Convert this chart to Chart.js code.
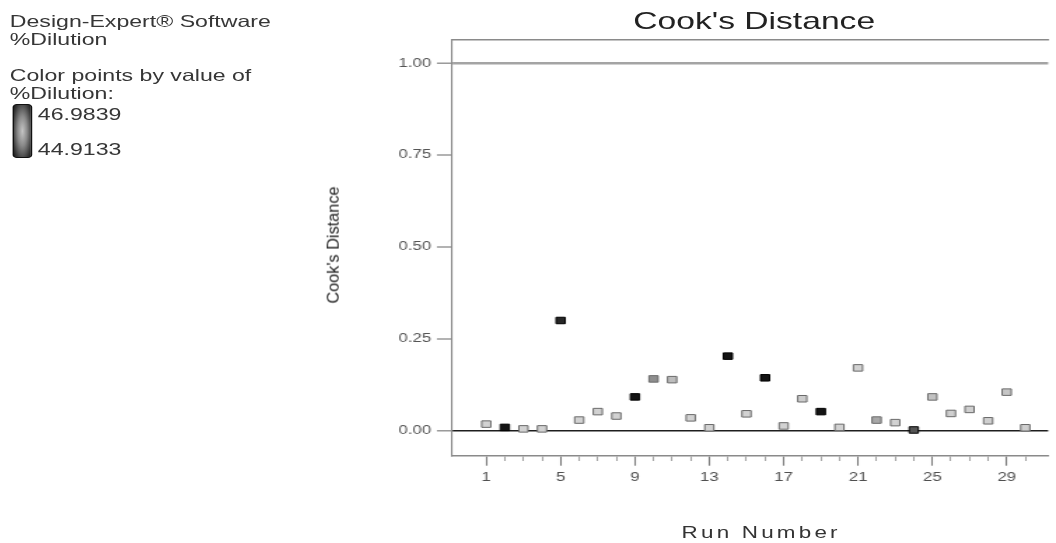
<!DOCTYPE html>
<html>
<head>
<meta charset="utf-8">
<script src="https://cdn.jsdelivr.net/npm/chart.js@4.4.1/dist/chart.umd.min.js"></script>
<style>
  html, body { margin: 0; padding: 0; background: #fff; overflow: hidden; width: 1056px; height: 543px; }
  #stage { position: absolute; left: 0; top: 0; width: 754px; height: 543px;
           transform: scaleX(1.40053); transform-origin: 0 0;
           font-family: "Liberation Sans", Arial, sans-serif; }
  #c { position: absolute; left: 0; top: 0; }
  .t { position: absolute; white-space: nowrap; line-height: 1; color: #363636; font-size: 16.5px; }
  #bar { position: absolute; left: 9px; top: 104px; width: 12px; height: 52px;
         border: 1.3px solid #111; border-radius: 3px;
         background: radial-gradient(ellipse at center, #c4c4c4 0%, #8a8a8a 40%, #3a3a3a 80%, #1a1a1a 100%); }
  #title { position: absolute; left: 323px; width: 431px; top: 9px; text-align: center;
           font-size: 24px; line-height: 1; color: #222; white-space: nowrap; }
  #xtitle { position: absolute; left: 323px; width: 431px; top: 524.8px; text-align: center;
            font-size: 16px; line-height: 1; color: #333; letter-spacing: 2.3px; padding-left: 5px; white-space: nowrap; }
  #ytitle { position: absolute; left: 238.5px; top: 245px; font-size: 11.8px; line-height: 1; color: #222;
            white-space: nowrap; transform: translate(-50%, -50%) rotate(-90deg) scaleX(1.38); }
</style>
</head>
<body>
<div id="stage">
  <canvas id="c" width="754" height="543"></canvas>
  <div class="t" style="left:7px; top:13px;">Design-Expert® Software</div>
  <div class="t" style="left:7px; top:31px;">%Dilution</div>
  <div class="t" style="left:7px; top:66.5px;">Color points by value of</div>
  <div class="t" style="left:7px; top:84.5px;">%Dilution:</div>
  <div id="bar"></div>
  <div class="t" style="left:27px; top:106px;">46.9839</div>
  <div class="t" style="left:27px; top:140.5px;">44.9133</div>
  <div id="title">Cook's Distance</div>
  <div id="xtitle">Run Number</div>
  <div id="ytitle">Cook's Distance</div>
</div>
<script>
// ---- data ----
const runs = [1,2,3,4,5,6,7,8,9,10,11,12,13,14,15,16,17,18,19,20,21,22,23,24,25,26,27,28,29,30];
const cooksDistance = [0.018,0.009,0.005,0.005,0.300,0.029,0.052,0.040,0.092,0.141,
                       0.139,0.035,0.008,0.203,0.046,0.144,0.013,0.087,0.052,0.009,
                       0.171,0.029,0.022,0.002,0.092,0.047,0.058,0.027,0.105,0.008];
const yTickValues = [0, 0.25, 0.5, 0.75, 1.0];
const labeledRuns = [1, 5, 9, 13, 17, 21, 25, 29];
const referenceLine = 1.0;
// ---- styles ----
const pointFill = ['#d2d2d2','#141414','#d2d2d2','#d2d2d2','#262626','#d2d2d2','#d2d2d2','#d2d2d2','#141414','#8e8e8e',
                   '#bdbdbd','#d2d2d2','#d2d2d2','#141414','#d2d2d2','#141414','#d2d2d2','#cccccc','#141414','#d2d2d2',
                   '#d2d2d2','#a8a8a8','#d2d2d2','#555555','#c2c2c2','#cfcfcf','#cfcfcf','#cfcfcf','#c6c6c6','#cfcfcf'];
const pointEdge = pointFill.map(c => parseInt(c.slice(1,3),16) < 0x60 ? '#000000' : '#6a6a6a');

const FONT = '"Liberation Sans", Arial, sans-serif';
const frameColor = '#8a8a8a';

new Chart(document.getElementById('c'), {
  type: 'scatter',
  data: {
    datasets: [{
      data: runs.map((r, i) => ({ x: r, y: cooksDistance[i] })),
      pointStyle: 'rect',
      pointRadius: 4.6,
      pointHoverRadius: 4.6,
      pointBackgroundColor: pointFill,
      pointBorderColor: pointEdge,
      pointBorderWidth: 1,
      showLine: false,
      clip: false
    }]
  },
  options: {
    responsive: false,
    animation: false,
    devicePixelRatio: 1,
    layout: { padding: { left: 0, top: 39.3, right: 0, bottom: 0 } },
    plugins: { legend: { display: false }, tooltip: { enabled: false }, title: { display: false } },
    scales: {
      x: {
        type: 'linear', position: 'bottom',
        min: -0.826, max: 31.23,
        afterBuildTicks: s => { s.ticks = runs.map(v => ({ value: v })); },
        afterFit: s => { s.height = 543 - 455.7; },
        ticks: {
          autoSkip: false, maxRotation: 0, minRotation: 0, padding: 5,
          color: '#505050', font: { family: FONT, size: 12 },
          callback: v => labeledRuns.includes(v) ? String(v) : ''
        },
        grid: {
          drawOnChartArea: false, drawTicks: true, tickLength: 10,
          tickColor: c => (c.tick && labeledRuns.includes(c.tick.value)) ? '#7a7a7a' : '#a5a5a5',
          tickWidth: 1.1,
          tickBorderDash: c => (c.tick && labeledRuns.includes(c.tick.value)) ? [] : [4.5, 30]
        },
        border: { display: true, color: frameColor, width: 1.5 }
      },
      xTop: {
        type: 'linear', position: 'top', axis: 'x',
        min: -0.826, max: 31.23,
        afterFit: s => { s.height = 0; },
        ticks: { display: false },
        grid: { display: false, drawTicks: false },
        border: { display: true, color: frameColor, width: 1.5 }
      },
      y: {
        type: 'linear', position: 'left',
        min: -0.068, max: 1.0653,
        afterBuildTicks: s => { s.ticks = yTickValues.map(v => ({ value: v })); },
        afterFit: s => { s.width = 322.95; },
        ticks: {
          padding: 4, color: '#555555', font: { family: FONT, size: 12 },
          callback: v => Number(v).toFixed(2)
        },
        grid: {
          drawOnChartArea: true, drawTicks: true, tickLength: 11,
          color: c => !c.tick ? 'rgba(0,0,0,0)' : (c.tick.value === referenceLine ? '#a4a4a4' : (c.tick.value === 0 ? '#1e1e1e' : 'rgba(0,0,0,0)')),
          lineWidth: c => !c.tick ? 0 : (c.tick.value === referenceLine ? 2.4 : (c.tick.value === 0 ? 1.6 : 0)),
          tickColor: '#8a8a8a', tickWidth: 1.3
        },
        border: { display: true, color: frameColor, width: 1.1 }
      }
    }
  }
});
</script>
</body>
</html>
